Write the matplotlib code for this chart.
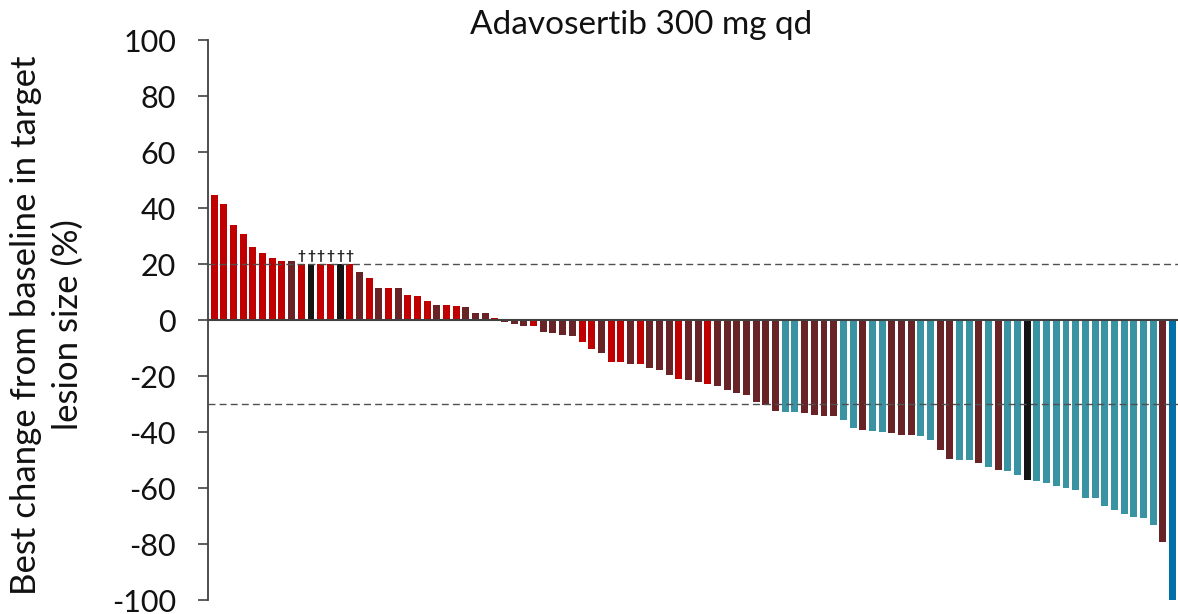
import numpy as np
import matplotlib.pyplot as plt

plt.rcParams['font.family'] = ['Lato', 'DejaVu Sans']
plt.rcParams['axes.unicode_minus'] = False

# best % change in target lesion size, one entry per patient (sorted)
change = [44.6, 41.3, 33.8, 30.8, 26.2, 24.0, 22.3, 20.9, 20.9, 20.0,
          20.0, 20.0, 20.0, 20.0, 20.0, 17.0, 15.0, 11.4, 11.4, 11.4,
          8.9, 8.6, 6.8, 5.4, 5.4, 5.0, 4.6, 2.5, 2.5, 0.7,
          -0.7, -1.4, -2.1, -2.1, -4.3, -4.6, -5.4, -5.7, -7.9, -10.4,
          -11.8, -15.0, -15.0, -15.7, -15.7, -17.1, -17.9, -19.6, -21.1, -21.4,
          -22.1, -22.9, -23.6, -25.0, -26.1, -26.8, -29.3, -30.4, -32.5, -32.9,
          -32.9, -33.2, -33.9, -34.3, -34.3, -35.7, -38.6, -39.3, -39.6, -40.0,
          -40.4, -41.1, -41.1, -41.4, -42.9, -46.4, -49.6, -50.0, -50.0, -51.1,
          -52.5, -53.6, -53.9, -55.4, -57.1, -57.5, -58.2, -59.3, -60.0, -60.7,
          -63.6, -63.6, -66.4, -67.9, -69.3, -70.4, -70.7, -73.2, -79.3, -100.0]

# response group per bar
group = ['r'] * 8 + ['m', 'r', 'k', 'r', 'r', 'k', 'r', 'm', 'r', 'm', 'r', 'm',
         'r', 'r', 'r', 'm', 'r', 'r', 'm', 'm', 'm', 'r',
         'm', 'm', 'm', 'r', 'm', 'm', 'm', 'm', 'r', 'r',
         'm', 'r', 'r', 'm', 'r', 'm', 'm', 'm', 'r', 'm',
         'm', 'r', 'm', 'm', 'm', 'm', 'm', 'm', 'm', 't',
         't', 'm', 'm', 'm', 'm', 't', 't', 'm', 't', 't',
         'm', 'm', 'm', 't', 't', 'm', 'm', 't', 't', 'm',
         't', 'm', 't', 't', 'k', 't', 't', 't', 't', 't',
         't', 't', 't', 't', 't', 't', 't', 't', 'm', 'b']

# patients marked with a dagger
dagger_idx = [9, 10, 11, 12, 13, 14]

palette = {'r': '#C00000', 'm': '#682327', 'k': '#141414',
           't': '#3A93A3', 'b': '#0070A8'}

fig = plt.figure(figsize=(11.78, 6.14), dpi=100)
ax = fig.add_axes([208 / 1178, 14 / 614, 970 / 1178, 560 / 614])

x = np.arange(len(change))
ax.bar(x, change, width=0.72, color=[palette[g] for g in group], zorder=2)

for i in dagger_idx:
    ax.text(x[i], change[i] + 0.6, '\u2020', ha='center', va='bottom',
            fontsize=10, fontweight='bold', color='#141414')

ax.axhline(0, color='#404040', lw=1.5, zorder=3)
for ref in (20, -30):
    ax.axhline(ref, color='#505050', lw=1, ls=(0, (5, 3)), zorder=3)

ax.set_xlim(-0.64, 99.57)
ax.set_ylim(-100, 100)
ax.set_yticks(np.arange(-100, 101, 20))
ax.set_xticks([])
ax.tick_params(axis='y', labelsize=22, length=7, width=1.2, pad=16,
               color='#404040', labelcolor='#111111')
for s in ('top', 'right', 'bottom'):
    ax.spines[s].set_visible(False)
ax.spines['left'].set_color('#404040')
ax.spines['left'].set_linewidth(1.3)

fig.text(641 / 1178, 1 - 34 / 614, 'Adavosertib 300 mg qd', ha='center',
         va='baseline', fontsize=24, color='#111111')
fig.text(47 / 1178, 1 - 325 / 614,
         'Best change from baseline in target\nlesion size (%)',
         rotation=90, ha='center', va='center', multialignment='center',
         fontsize=25, linespacing=1.36, color='#111111')

fig.savefig('out.png', dpi=100)
